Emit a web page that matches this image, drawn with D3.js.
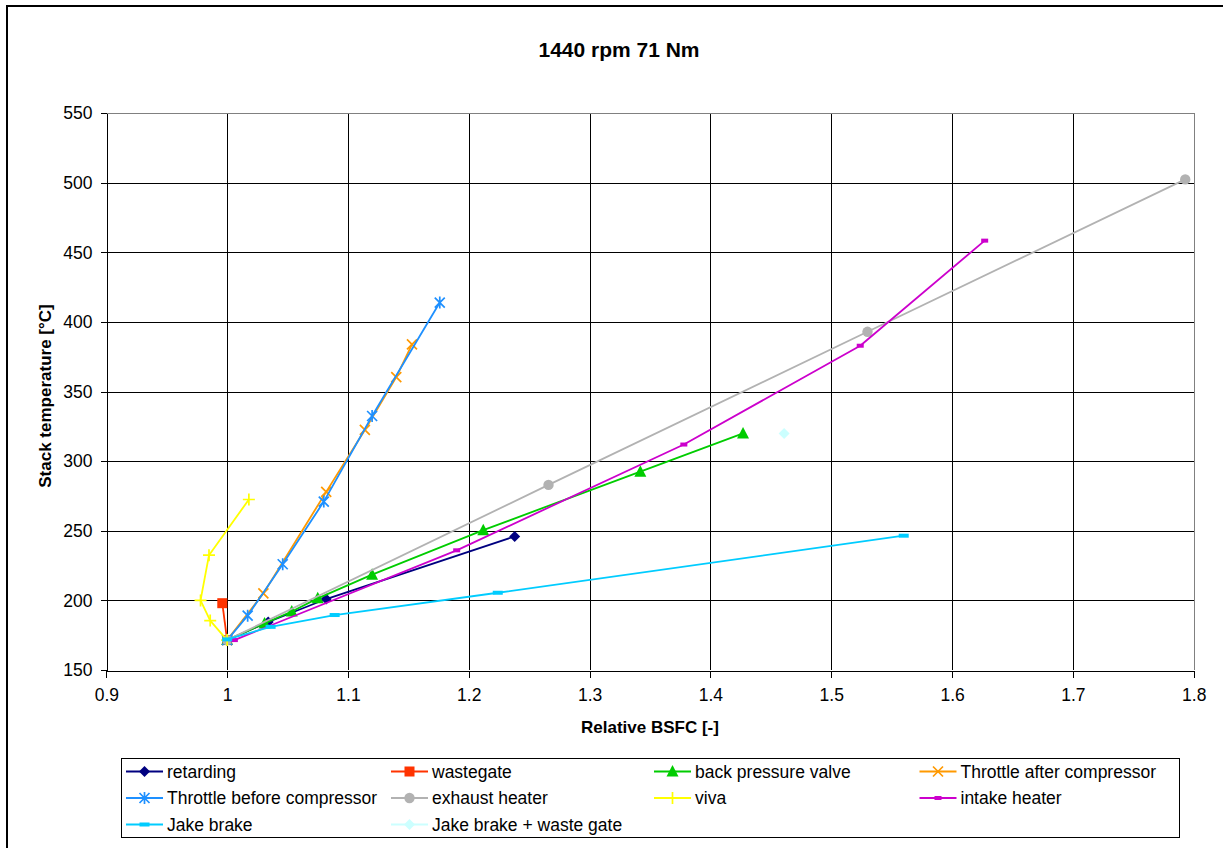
<!DOCTYPE html>
<html><head><meta charset="utf-8">
<script src="https://cdn.jsdelivr.net/npm/d3@7"></script>
<style>
body{margin:0;background:#fff;}
svg{display:block;}
text{font-family:"Liberation Sans",Arial,sans-serif;fill:#000;}
</style>
</head><body>
<svg id="chart" width="1223" height="848"></svg>
<script>
// ---------- data ----------
const chartTitle = "1440 rpm 71 Nm";
const xTitle = "Relative BSFC [-]";
const yTitle = "Stack temperature [°C]";
const xTicks = [0.9, 1.0, 1.1, 1.2, 1.3, 1.4, 1.5, 1.6, 1.7, 1.8];
const xTickLabels = ["0.9", "1", "1.1", "1.2", "1.3", "1.4", "1.5", "1.6", "1.7", "1.8"];
const yTicks = [150, 200, 250, 300, 350, 400, 450, 500, 550];
const yTickLabels = ["150", "200", "250", "300", "350", "400", "450", "500", "550"];

const seriesNames = ["retarding", "wastegate", "back pressure valve", "Throttle after compressor",
  "Throttle before compressor", "exhaust heater", "viva", "intake heater",
  "Jake brake", "Jake brake + waste gate"];

const retarding = [[1.0, 171.5], [1.034, 184.5], [1.082, 201], [1.238, 246]];
const wastegate = [[1.0, 171.5], [0.996, 198]];
const backPressureValve = [[1.0, 171.5], [1.031, 183.5], [1.0535, 192], [1.075, 201.5], [1.120, 218.5], [1.212, 250.5], [1.342, 292.5], [1.427, 320]];
const throttleAfter = [[1.0, 171.5], [1.030, 205], [1.082, 278], [1.114, 322.5], [1.140, 360.5], [1.153, 384]];
const throttleBefore = [[1.0, 171.5], [1.017, 189], [1.046, 226], [1.080, 271], [1.120, 332.5], [1.176, 414]];
const exhaustHeater = [[1.0, 171.5], [1.266, 283], [1.530, 393], [1.793, 502.5]];
const viva = [[1.0, 171.5], [0.986, 185.5], [0.978, 200], [0.985, 232.5], [1.018, 272.5]];
const intakeHeater = [[1.006, 171.5], [1.190, 236], [1.378, 312], [1.524, 383], [1.627, 458.5]];
const jakeBrake = [[1.0, 172], [1.036, 181], [1.089, 189.5], [1.224, 205.5], [1.560, 246.5]];
const jakeBrakeWastegate = [[1.461, 320]];

const seriesData = [retarding, wastegate, backPressureValve, throttleAfter, throttleBefore,
  exhaustHeater, viva, intakeHeater, jakeBrake, jakeBrakeWastegate];

// ---------- styles ----------
const seriesColors = ["#000080", "#FF3300", "#00CC00", "#FF9900", "#1E90FF",
  "#B2B2B2", "#FFFF00", "#CC00CC", "#00CCFF", "#CCFFFF"];
const seriesMarkers = ["diamond", "square", "triangle", "x", "asterisk",
  "circle", "plus", "dashSmall", "dash", "diamond"];

const svg = d3.select("#chart");
const W = 1223, H = 848;
const plot = {left: 106.3, right: 1193.7, top: 113.3, bottom: 670};

const x = d3.scaleLinear().domain([0.9, 1.8]).range([plot.left, plot.right]);
const y = d3.scaleLinear().domain([150, 550]).range([plot.bottom, plot.top]);

// background + outer frame
svg.append("rect").attr("width", W).attr("height", H).attr("fill", "#fff");
svg.append("rect").attr("x", 7).attr("y", 6).attr("width", 1400).attr("height", 1000)
  .attr("fill", "none").attr("stroke", "#000").attr("stroke-width", 2);

// title
svg.append("text").attr("x", 619).attr("y", 56.5).attr("text-anchor", "middle")
  .style("font-size", "21px").style("font-weight", "bold").text(chartTitle);

// gridlines
const grid = svg.append("g").attr("shape-rendering", "crispEdges");
grid.selectAll("line.v").data(xTicks.filter(d => d > 0.95 && d < 1.75)).enter().append("line")
  .attr("x1", d => Math.round(x(d)) + 0.5).attr("x2", d => Math.round(x(d)) + 0.5)
  .attr("y1", plot.top).attr("y2", plot.bottom).attr("stroke", "#000").attr("stroke-width", 1);
grid.selectAll("line.h").data(yTicks.filter(d => d > 160 && d < 540)).enter().append("line")
  .attr("x1", plot.left).attr("x2", plot.right)
  .attr("y1", d => Math.round(y(d)) + 0.5).attr("y2", d => Math.round(y(d)) + 0.5)
  .attr("stroke", "#000").attr("stroke-width", 1);
// plot area border top/right (gray)
grid.append("line").attr("x1", plot.left).attr("x2", Math.round(plot.right) + 0.5)
  .attr("y1", Math.round(plot.top) + 0.5).attr("y2", Math.round(plot.top) + 0.5).attr("stroke", "#808080");
grid.append("line").attr("x1", Math.round(plot.right) + 0.5).attr("x2", Math.round(plot.right) + 0.5)
  .attr("y1", plot.top).attr("y2", plot.bottom).attr("stroke", "#808080");

// axes
const xAxis = d3.axisBottom(x).tickValues(xTicks).tickFormat((d, i) => xTickLabels[i])
  .tickSize(7).tickPadding(11).tickSizeOuter(0);
const gx = svg.append("g").attr("transform", `translate(0,${Math.round(plot.bottom) + 0.5})`).call(xAxis);
const yAxis = d3.axisLeft(y).tickValues(yTicks).tickFormat((d, i) => yTickLabels[i])
  .tickSize(6).tickPadding(8).tickSizeOuter(0);
const gy = svg.append("g").attr("transform", `translate(${Math.round(plot.left) + 0.5},0)`).call(yAxis);
[gx, gy].forEach(g => {
  g.select(".domain").attr("stroke", "#000").attr("shape-rendering", "crispEdges");
  g.selectAll(".tick line").attr("stroke", "#000").attr("shape-rendering", "crispEdges");
  g.selectAll(".tick text").style("font-size", "17.5px").attr("fill", "#000")
    .style("font-family", "'Liberation Sans', Arial, sans-serif");
});

// axis titles
svg.append("text").attr("x", (plot.left + plot.right) / 2).attr("y", 733).attr("text-anchor", "middle")
  .style("font-size", "17px").style("font-weight", "bold").text(xTitle);
svg.append("text").attr("transform", `translate(51,396) rotate(-90)`).attr("text-anchor", "middle")
  .style("font-size", "17px").style("font-weight", "bold").text(yTitle);

// marker drawing
function drawMarker(g, type, cx, cy, color) {
  const s = 5.5;
  switch (type) {
    case "diamond":
      g.append("path").attr("d", `M${cx},${cy - s}L${cx + s},${cy}L${cx},${cy + s}L${cx - s},${cy}Z`)
        .attr("fill", color).attr("stroke", "none"); break;
    case "square":
      g.append("rect").attr("x", cx - 5).attr("y", cy - 5).attr("width", 10).attr("height", 10)
        .attr("fill", color); break;
    case "triangle":
      g.append("path").attr("d", `M${cx},${cy - s - 1}L${cx + s + 0.5},${cy + s - 0.5}L${cx - s - 0.5},${cy + s - 0.5}Z`)
        .attr("fill", color); break;
    case "circle":
      g.append("circle").attr("cx", cx).attr("cy", cy).attr("r", 5.2).attr("fill", color); break;
    case "x":
      g.append("path").attr("d", `M${cx - 5},${cy - 5}L${cx + 5},${cy + 5}M${cx - 5},${cy + 5}L${cx + 5},${cy - 5}`)
        .attr("stroke", color).attr("stroke-width", 1.7).attr("fill", "none"); break;
    case "asterisk":
      g.append("path").attr("d", `M${cx - 5},${cy - 5}L${cx + 5},${cy + 5}M${cx - 5},${cy + 5}L${cx + 5},${cy - 5}M${cx},${cy - 6}L${cx},${cy + 6}`)
        .attr("stroke", color).attr("stroke-width", 1.7).attr("fill", "none"); break;
    case "plus":
      g.append("path").attr("d", `M${cx - 6},${cy}L${cx + 6},${cy}M${cx},${cy - 6}L${cx},${cy + 6}`)
        .attr("stroke", color).attr("stroke-width", 1.7).attr("fill", "none"); break;
    case "dashSmall":
      g.append("rect").attr("x", cx - 3.5).attr("y", cy - 2).attr("width", 7).attr("height", 4).attr("fill", color); break;
    case "dash":
      g.append("rect").attr("x", cx - 5).attr("y", cy - 2).attr("width", 10).attr("height", 4).attr("fill", color); break;
  }
}

const line = d3.line().x(d => x(d[0])).y(d => y(d[1]));
const seriesG = svg.append("g");
seriesData.forEach((data, i) => {
  const g = seriesG.append("g");
  if (data.length > 1) {
    g.append("path").datum(data).attr("d", line).attr("fill", "none")
      .attr("stroke", seriesColors[i]).attr("stroke-width", 1.8).attr("stroke-linejoin", "round");
  }
  data.forEach(d => drawMarker(g, seriesMarkers[i], x(d[0]), y(d[1]), seriesColors[i]));
});

// legend
const legend = {x: 121, y: 757.5, w: 1058, h: 79};
const lg = svg.append("g");
lg.append("rect").attr("x", legend.x + 0.5).attr("y", legend.y + 0.5).attr("width", legend.w).attr("height", legend.h)
  .attr("fill", "#fff").attr("stroke", "#000").attr("stroke-width", 1).attr("shape-rendering", "crispEdges");
const colX = [126, 391, 654, 919.5];
const rowY = [771.5, 798, 824.5];
seriesNames.forEach((name, i) => {
  const cx = colX[i % 4], cy = rowY[Math.floor(i / 4)];
  const g = lg.append("g");
  g.append("line").attr("x1", cx).attr("x2", cx + 37).attr("y1", cy).attr("y2", cy)
    .attr("stroke", seriesColors[i]).attr("stroke-width", 2);
  drawMarker(g, seriesMarkers[i], cx + 18.5, cy, seriesColors[i]);
  g.append("text").attr("x", cx + 41).attr("y", cy + 6.3).style("font-size", "17.5px").text(name);
});
</script>
</body></html>
